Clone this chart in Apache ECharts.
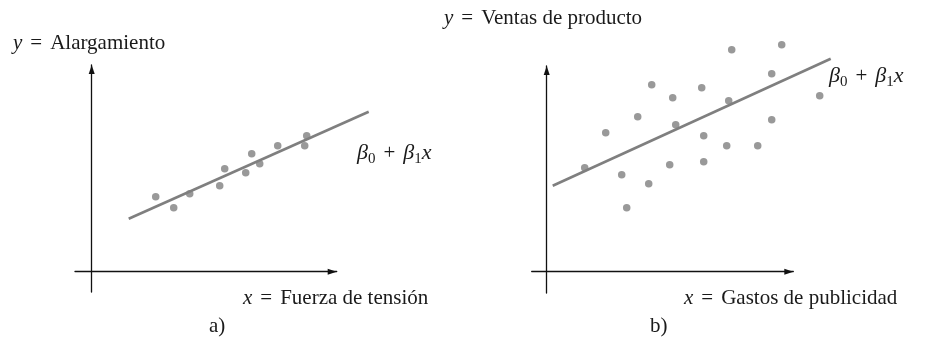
<!DOCTYPE html>
<html>
<head>
<meta charset="utf-8">
<script src="https://cdn.jsdelivr.net/npm/echarts@6/dist/echarts.min.js"></script>
<style>
html,body{margin:0;padding:0;background:#fff;}
#chart{width:925px;height:344px;}
</style>
</head>
<body>
<div id="chart"></div>
<script>
// Panel a) Alargamiento vs Fuerza de tensión
const aX = [6.4, 8.2, 9.8, 12.8, 13.3, 15.4, 16.0, 16.8, 18.6, 21.3, 21.5];
const aY = [7.5, 6.4, 7.8, 8.6, 10.3, 9.9, 11.8, 10.8, 12.6, 12.6, 13.6];
const aFitX = [3.7, 27.7];
const aFitY = [5.3, 16.0];
// Panel b) Ventas de producto vs Gastos de publicidad
const bX = [3.8, 5.9, 7.5, 8.0, 9.1, 10.2, 10.5, 12.3, 12.6, 12.9, 15.5, 15.7, 15.7, 18.0, 18.2, 18.5, 21.1, 22.5, 22.5, 23.5, 27.3];
const bY = [10.4, 13.9, 9.7, 6.4, 15.5, 8.8, 18.7, 10.7, 17.4, 14.7, 18.4, 13.6, 11.0, 12.6, 17.1, 22.2, 12.6, 19.8, 15.2, 22.7, 17.6];
const bFitX = [0.6, 28.4];
const bFitY = [8.6, 21.3];
// Axis ranges (no ticks in the figure)
const aXRange = [-1.67, 24.5];
const aYRange = [-2.03, 20.67];
const bXRange = [-1.5, 24.66];
const bYRange = [-2.13, 20.57];
// Wider hidden ranges (same scale) for the fitted lines, which run past the axes
const aXWide = [-1.67, 30.0];
const bXWide = [-1.5, 30.0];
const bYWide = [-2.13, 25.0];
// Texts
const aYName = ['y', 'Alargamiento'];
const aXName = ['x', 'Fuerza de tensión'];
const bYName = ['y', 'Ventas de producto'];
const bXName = ['x', 'Gastos de publicidad'];
const panelTags = ['a)', 'b)'];

const zip = (xs, ys) => xs.map((v, i) => [v, ys[i]]);
const FONT = '"Liberation Serif", "Times New Roman", serif';
const GRAY = '#7f7f7f';
const AX = '#111';
const PX = 10; // pixels per data unit (both panels, both directions)

function axisCommon(range, gi) {
  return {
    type: 'value', gridIndex: gi, min: range[0], max: range[1],
    axisLine: { show: true, onZero: true, lineStyle: { color: AX, width: 1.3 },
      symbol: ['none', 'triangle'], symbolSize: [6, 9], symbolOffset: [0, -4.5] },
    axisTick: { show: false }, axisLabel: { show: false }, splitLine: { show: false }
  };
}
function axisHidden(range, gi) {
  return { type: 'value', gridIndex: gi, min: range[0], max: range[1], show: false,
    axisLine: { show: false }, axisTick: { show: false }, axisLabel: { show: false }, splitLine: { show: false } };
}

const richBase = {
  i: { fontFamily: FONT, fontSize: 21, fontStyle: 'italic', fill: '#1a1a1a' },
  e: { fontFamily: FONT, fontSize: 21, fill: '#1a1a1a', padding: [0, 8, 0, 8] },
  t: { fontFamily: FONT, fontSize: 21, fill: '#1a1a1a' },
  b: { fontFamily: FONT, fontSize: 22, fontStyle: 'italic', fill: '#1a1a1a', lineHeight: 28 },
  s: { fontFamily: FONT, fontSize: 15, fill: '#1a1a1a', verticalAlign: 'bottom', lineHeight: 28 },
  p: { fontFamily: FONT, fontSize: 21, fill: '#1a1a1a', padding: [0, 8, 0, 8], lineHeight: 28 },
  x: { fontFamily: FONT, fontSize: 22, fontStyle: 'italic', fill: '#1a1a1a', lineHeight: 28 }
};

function eqText(x, y, parts) {
  return { type: 'text', x: x, y: y, z: 10,
    style: { text: '{i|' + parts[0] + '}{e|=}{t|' + parts[1] + '}', verticalAlign: 'middle', align: 'left', rich: richBase } };
}
function betaText(x, y) {
  return { type: 'text', x: x, y: y, z: 10,
    style: { text: '{b|β}{s|0}{p|+}{b|β}{s|1}{x|x}', verticalAlign: 'middle', align: 'left', rich: richBase } };
}
function tagText(x, y, s) {
  return { type: 'text', x: x, y: y, z: 10,
    style: { text: s, fontFamily: FONT, fontSize: 21, fill: '#1a1a1a', verticalAlign: 'middle', align: 'left' } };
}

// grid boxes
const gA = { left: 75, top: 65, w: (aXRange[1] - aXRange[0]) * PX, h: (aYRange[1] - aYRange[0]) * PX };
const gB = { left: 531.7, top: 66, w: (bXRange[1] - bXRange[0]) * PX, h: (bYRange[1] - bYRange[0]) * PX };
const gAw = { left: 75, top: 65, w: (aXWide[1] - aXWide[0]) * PX, h: gA.h };
const gBw = { left: 531.7, top: 66 - (bYWide[1] - bYRange[1]) * PX, w: (bXWide[1] - bXWide[0]) * PX, h: (bYWide[1] - bYWide[0]) * PX };
const G = g => ({ left: g.left, top: g.top, width: g.w, height: g.h });

const chart = echarts.init(document.getElementById('chart'), null, { renderer: 'canvas' });
chart.setOption({
  animation: false,
  backgroundColor: '#fff',
  grid: [G(gA), G(gB), G(gAw), G(gBw)],
  xAxis: [axisCommon(aXRange, 0), axisCommon(bXRange, 1), axisHidden(aXWide, 2), axisHidden(bXWide, 3)],
  yAxis: [axisCommon(aYRange, 0), axisCommon(bYRange, 1), axisHidden(aYRange, 2), axisHidden(bYWide, 3)],
  series: [
    { type: 'line', xAxisIndex: 2, yAxisIndex: 2, data: zip(aFitX, aFitY),
      showSymbol: false, lineStyle: { color: GRAY, width: 2.6 }, z: 2 },
    { type: 'scatter', xAxisIndex: 0, yAxisIndex: 0, data: zip(aX, aY), clip: false,
      symbolSize: 7.5, itemStyle: { color: GRAY }, z: 3 },
    { type: 'line', xAxisIndex: 3, yAxisIndex: 3, data: zip(bFitX, bFitY),
      showSymbol: false, lineStyle: { color: GRAY, width: 2.6 }, z: 2 },
    { type: 'scatter', xAxisIndex: 1, yAxisIndex: 1, data: zip(bX, bY), clip: false,
      symbolSize: 7.5, itemStyle: { color: GRAY }, z: 3 }
  ],
  graphic: [
    eqText(13, 43, aYName),
    eqText(444, 18, bYName),
    eqText(243, 298, aXName),
    eqText(684, 298, bXName),
    tagText(209, 326, panelTags[0]),
    tagText(650, 326, panelTags[1]),
    betaText(357, 153),
    betaText(829, 76)
  ]
});
</script>
</body>
</html>
